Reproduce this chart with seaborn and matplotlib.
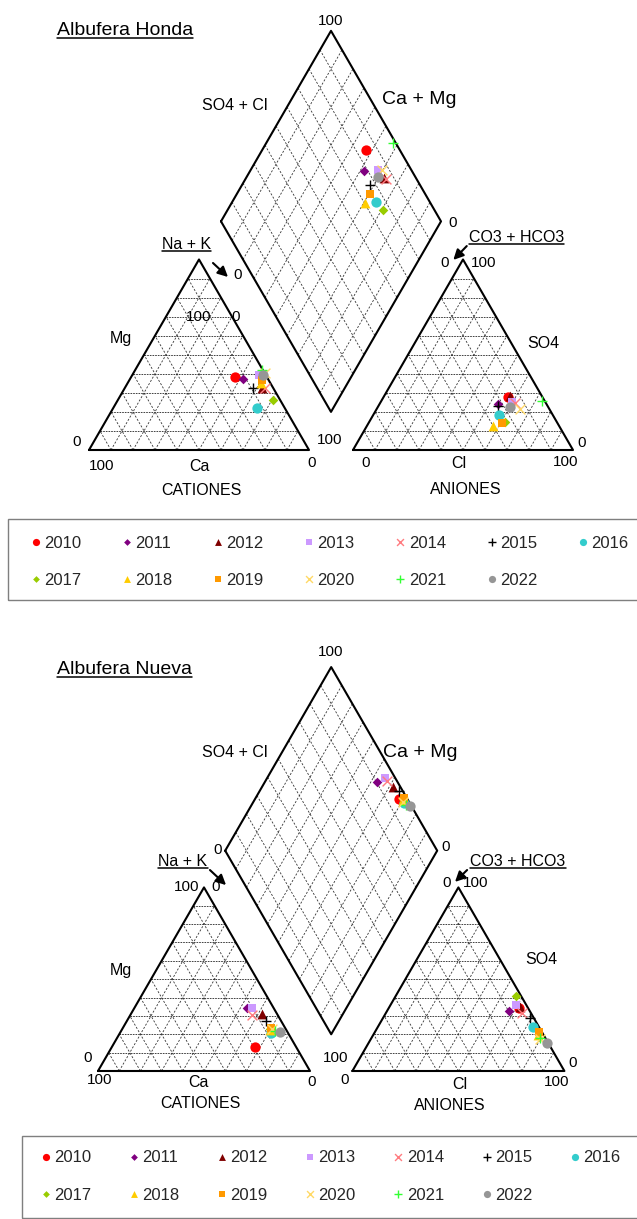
import numpy as np
import pandas as pd
import matplotlib
matplotlib.use('Agg')
import matplotlib.pyplot as plt
from matplotlib.lines import Line2D
from matplotlib.patches import Rectangle
import seaborn as sns

sns.set_style('white')
plt.rcParams['font.family'] = ['Liberation Sans', 'DejaVu Sans']

# Años y estilo de cada serie
anios = [2010, 2011, 2012, 2013, 2014, 2015, 2016, 2017, 2018, 2019, 2020, 2021, 2022]
colores = ['#FF0000', '#800080', '#800000', '#CC99FF', '#FF7C80', '#000000', '#33CCCC',
           '#99CC00', '#FFCC00', '#FF9900', '#FFD966', '#33FF33', '#969696']
marcadores = ['o', 'D', '^', 's', 'x', '+', 'o', 'D', '^', 's', 'x', '+', 'o']
tamanos = [55, 24, 50, 38, 50, 55, 55, 24, 50, 38, 50, 55, 55]

# Albufera Honda (% meq/L)
honda_mg = [38.2, 37.1, 32.4, 39.4, 32.5, 32.7, 22.2, 26.2, 35.3, 36.7, 40.4, 42.0, 39.4]
honda_nak = [47.3, 51.6, 62.6, 57.7, 63.7, 58.1, 65.4, 70.4, 60.5, 60.3, 59.6, 57.5, 59.6]
honda_so4 = [28.0, 24.1, 28.3, 25.4, 24.7, 23.0, 18.4, 14.9, 12.6, 14.4, 21.4, 25.7, 22.7]
honda_cl = [56.6, 54.0, 57.2, 59.5, 61.3, 54.3, 57.2, 61.7, 57.5, 60.4, 65.2, 72.9, 60.0]

# Albufera Nueva (% meq/L)
nueva_mg = [12.9, 34.2, 30.9, 34.2, 30.5, 27.2, 20.5, 22.9, 22.3, 23.3, 23.0, 21.8, 21.4]
nueva_nak = [67.6, 53.1, 61.8, 55.4, 57.3, 65.6, 71.2, 69.7, 70.0, 70.0, 70.5, 72.7, 75.2]
nueva_so4 = [34.2, 32.8, 35.0, 36.0, 31.4, 28.7, 24.1, 41.0, 19.6, 21.4, 17.3, 18.0, 15.1]
nueva_cl = [61.7, 57.6, 61.6, 59.2, 64.1, 69.4, 73.0, 56.7, 77.9, 77.3, 79.9, 79.5, 84.4]

H = np.sqrt(3) / 2
GAP = 0.2
W_PX, H_PX = 637, 1219


def coords_piper(mg, nak, so4, cl):
    mg, nak, so4, cl = [np.asarray(v) / 100 for v in (mg, nak, so4, cl)]
    cx = nak + mg / 2
    cy = mg * H
    ax_ = 1 + GAP + cl + so4 / 2
    ay = so4 * H
    sc = so4 + cl
    dx = 0.5 + GAP / 2 + 0.5 * (sc + nak)
    dy = GAP * H + H + H * (sc - nak)
    return cx, cy, ax_, ay, dx, dy


def make_axes(fig, x0, y0, s, top_px, bot_px):
    xlim = ((0 - x0) / s, (W_PX - x0) / s)
    ylim = ((y0 - bot_px) / s, (y0 - top_px) / s)
    ax = fig.add_axes([0, 1 - bot_px / H_PX, 1, (bot_px - top_px) / H_PX])
    ax.set_xlim(xlim)
    ax.set_ylim(ylim)
    ax.axis('off')
    return ax


def dibujar_marco(ax):
    kw = dict(color='#333333', lw=0.6, dashes=(2.5, 2))
    for ox in (0, 1 + GAP):
        for i in range(1, 10):
            f = i / 10
            ax.plot([ox + f / 2, ox + 1 - f / 2], [f * H, f * H], color='#222222', lw=0.6, dashes=(2, 1.2))
            ax.plot([ox + f, ox + f + (1 - f) / 2], [0, (1 - f) * H], **kw)
            ax.plot([ox + f, ox + f / 2], [0, f * H], **kw)
        ax.plot([ox, ox + 1, ox + 0.5, ox], [0, 0, H, 0], color='black', lw=1.5)
    # rombo central
    L = np.array([0.5 + GAP / 2, GAP * H + H])
    T = L + np.array([0.5, H])
    B = L + np.array([0.5, -H])
    R = T + B - L
    for i in range(1, 10):
        f = i / 10
        p = L + f * (T - L)
        ax.plot([p[0], p[0] + (B - L)[0]], [p[1], p[1] + (B - L)[1]], **kw)
        p = L + f * (B - L)
        ax.plot([p[0], p[0] + (T - L)[0]], [p[1], p[1] + (T - L)[1]], **kw)
    ax.plot([L[0], T[0], R[0], B[0], L[0]], [L[1], T[1], R[1], B[1], L[1]], color='black', lw=1.5)


def dibujar_textos(ax, textos, flechas):
    subrayar = []
    for txt, u, v, fs, ha, sub in textos:
        t = ax.text(u, v, txt, fontsize=fs, ha=ha, va='center', color='black')
        if sub:
            subrayar.append(t)
    for (u0, v0), (u1, v1) in flechas:
        ax.annotate('', xy=(u1, v1), xytext=(u0, v0),
                    arrowprops=dict(arrowstyle='-|>', color='black', lw=1.5, mutation_scale=15,
                                    shrinkA=0, shrinkB=0))
    return subrayar


def dibujar_puntos(ax, mg, nak, so4, cl):
    cx, cy, ax_, ay, dx, dy = coords_piper(mg, nak, so4, cl)
    for i, anio in enumerate(anios):
        df = pd.DataFrame({'x': [cx[i], ax_[i], dx[i]], 'y': [cy[i], ay[i], dy[i]]})
        m = marcadores[i]
        if m in ('x', '+'):
            extra = dict(linewidth=1.0, color=colores[i])
        else:
            extra = dict(linewidth=0, color=colores[i], edgecolor=colores[i])
        sns.scatterplot(data=df, x='x', y='y', marker=m, s=tamanos[i], ax=ax,
                        legend=False, label=str(anio), zorder=5, **extra)


fig = plt.figure(figsize=(W_PX / 100, H_PX / 100), dpi=100)

# ---- Albufera Honda ----
ax1 = make_axes(fig, 89, 450, 220, 0, 510)
dibujar_marco(ax1)
textos1 = [
    ('Albufera Honda', -0.145, 1.909, 14, 'left', True),
    ('100', 1.1, 1.95, 11, 'center', False),
    ('SO4 + Cl', 0.664, 1.564, 11.5, 'center', False),
    ('Ca + Mg', 1.5, 1.591, 14, 'center', False),
    ('0', 1.653, 1.033, 11, 'center', False),
    ('Na + K', 0.445, 0.932, 11.5, 'center', True),
    ('0', 0.677, 0.795, 11, 'center', False),
    ('100', 0.5, 0.6045, 11, 'center', False),
    ('0', 0.668, 0.6045, 11, 'center', False),
    ('Mg', 0.145, 0.509, 11.5, 'center', False),
    ('0', -0.055, 0.036, 11, 'center', False),
    ('100', 0.059, -0.073, 11, 'center', False),
    ('Ca', 0.5, -0.073, 11.5, 'center', False),
    ('0', 1.014, -0.059, 11, 'center', False),
    ('100', 1.095, 0.045, 11, 'center', False),
    ('CATIONES', 0.509, -0.182, 11.5, 'center', False),
    ('0', 1.259, -0.059, 11, 'center', False),
    ('Cl', 1.683, -0.06, 11.5, 'center', False),
    ('100', 2.168, -0.053, 11, 'center', False),
    ('0', 2.239, 0.03, 11, 'center', False),
    ('SO4', 2.065, 0.482, 11.5, 'center', False),
    ('ANIONES', 1.7136, -0.179, 11.5, 'center', False),
    ('0', 1.618, 0.849, 11, 'center', False),
    ('100', 1.792, 0.851, 11, 'center', False),
    ('CO3 + HCO3', 1.944, 0.965, 11.5, 'center', True),
]
flechas1 = [((0.5636, 0.85), (0.6318, 0.7864)), ((1.717, 0.927), (1.656, 0.864))]
sub1 = dibujar_textos(ax1, textos1, flechas1)
dibujar_puntos(ax1, honda_mg, honda_nak, honda_so4, honda_cl)

# ---- Albufera Nueva ----
ax2 = make_axes(fig, 98, 1071, 212, 615, 1130)
dibujar_marco(ax2)
textos2 = [
    ('Albufera Nueva', -0.193, 1.892, 14, 'left', True),
    ('100', 1.099, 1.976, 11, 'center', False),
    ('SO4 + Cl', 0.646, 1.5, 11.5, 'center', False),
    ('Ca + Mg', 1.519, 1.5, 14, 'center', False),
    ('0', 0.566, 1.042, 11, 'center', False),
    ('0', 1.642, 1.057, 11, 'center', False),
    ('Na + K', 0.401, 0.986, 11.5, 'center', True),
    ('100', 0.42, 0.868, 11, 'center', False),
    ('0', 0.557, 0.868, 11, 'center', False),
    ('Mg', 0.108, 0.476, 11.5, 'center', False),
    ('0', -0.047, 0.061, 11, 'center', False),
    ('100', 0.009, -0.042, 11, 'center', False),
    ('Ca', 0.476, -0.052, 11.5, 'center', False),
    ('0', 1.009, -0.052, 11, 'center', False),
    ('CATIONES', 0.481, -0.151, 11.5, 'center', False),
    ('100', 1.123, 0.061, 11, 'center', False),
    ('0', 1.165, -0.042, 11, 'center', False),
    ('Cl', 1.708, -0.066, 11.5, 'center', False),
    ('100', 2.165, -0.052, 11, 'center', False),
    ('0', 2.241, 0.038, 11, 'center', False),
    ('SO4', 2.09, 0.524, 11.5, 'center', False),
    ('ANIONES', 1.66, -0.165, 11.5, 'center', False),
    ('0', 1.646, 0.887, 11, 'center', False),
    ('100', 1.783, 0.887, 11, 'center', False),
    ('CO3 + HCO3', 1.981, 0.986, 11.5, 'center', True),
]
flechas2 = [((0.528, 0.948), (0.604, 0.877)), ((1.741, 0.948), (1.684, 0.892))]
sub2 = dibujar_textos(ax2, textos2, flechas2)
dibujar_puntos(ax2, nueva_mg, nueva_nak, nueva_so4, nueva_cl)


# ---- Leyendas (orden por filas: 2010-2016 arriba, 2017-2022 abajo) ----
orden = [0, 7, 1, 8, 2, 9, 3, 10, 4, 11, 5, 12, 6]


def leyenda(ax, caja, x_handle, y_top, colsp):
    h, l = ax.get_legend_handles_labels()
    h = [h[i] for i in orden]
    l = [l[i] for i in orden]
    fig.legend(h, l, loc='upper left', bbox_to_anchor=(x_handle / W_PX, 1 - y_top / H_PX),
               ncol=7, frameon=False, fontsize=12, markerscale=0.7, scatterpoints=1,
               scatteryoffsets=[0.5], handlelength=0.8, handletextpad=0.1,
               columnspacing=colsp, labelspacing=1.36, borderpad=0, borderaxespad=0)
    x0, y0, x1, y1 = caja
    fig.add_artist(Rectangle((x0 / W_PX, 1 - y1 / H_PX), (x1 - x0) / W_PX, (y1 - y0) / H_PX,
                             transform=fig.transFigure, fill=False, edgecolor='#7f7f7f', lw=1.0))


leyenda(ax1, (8, 519, 645, 600), 29, 535.5, 2.34)
leyenda(ax2, (22, 1136, 645, 1218), 39, 1150.5, 2.16)

# subrayados
fig.canvas.draw()
for t in sub1 + sub2:
    bb = t.get_window_extent()
    y = bb.y0 + 1
    fig.add_artist(Line2D([bb.x0 / W_PX, bb.x1 / W_PX], [y / H_PX, y / H_PX],
                          transform=fig.transFigure, color='black', lw=1.1))

fig.savefig('out.png', dpi=100)
